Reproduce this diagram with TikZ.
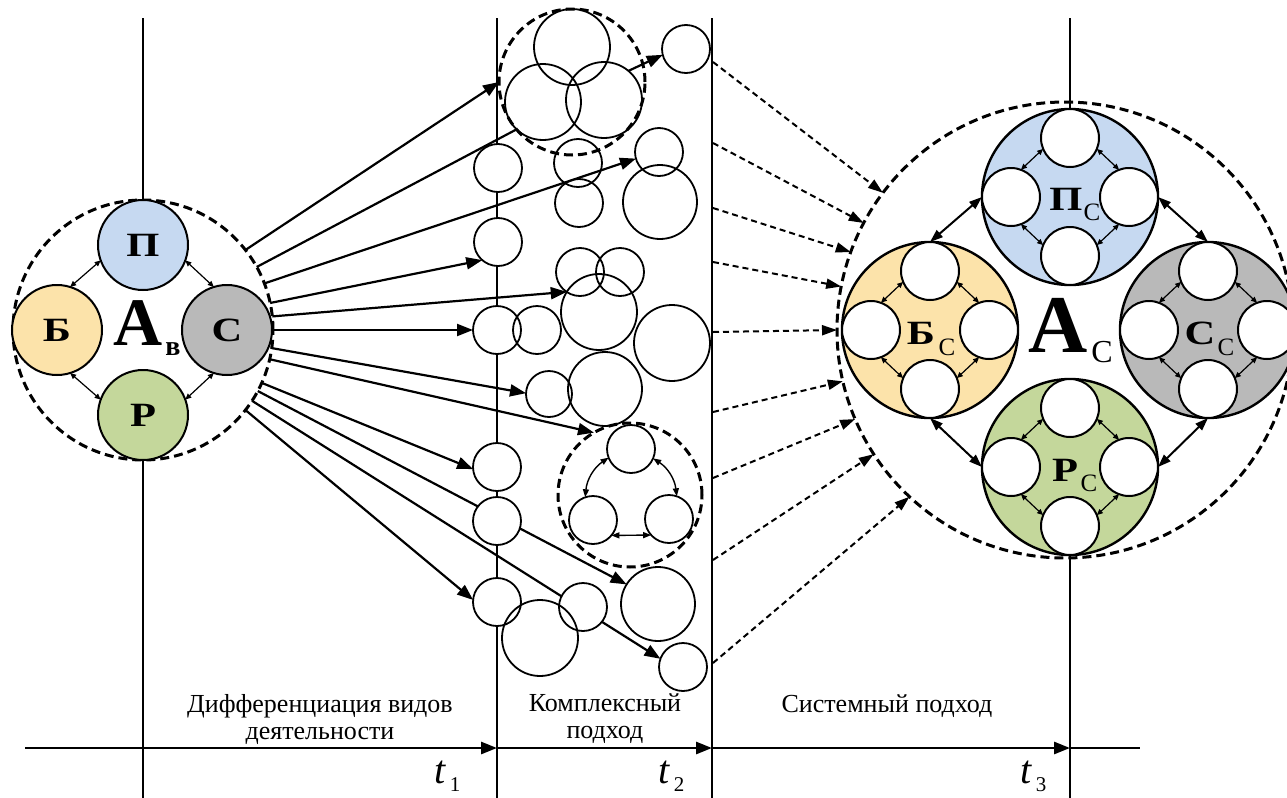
\documentclass[tikz,border=0pt]{standalone}
\usepackage{fontspec}
\usepackage{graphicx}
\setmainfont{Liberation Serif}
\usetikzlibrary{arrows.meta,backgrounds}
\definecolor{cblue}{RGB}{198,217,241}
\definecolor{cyel}{RGB}{252,227,170}
\definecolor{cgray}{RGB}{185,185,185}
\definecolor{cgreen}{RGB}{196,215,155}
\newcommand\hwide[1]{\scalebox{1.25}[1]{#1}}
\tikzset{
  cir/.style={circle,inner sep=0pt,outer sep=0pt,minimum size=#1pt},
  wc/.style={cir=#1,fill=white},
  ol/.style={line width=0.9pt},
  dcirc/.style={cir=#1,draw,line width=1.5pt,dash pattern=on 4.5pt off 2.5pt},
  bigarr/.style={line width=1.1pt,-{Triangle[length=8pt,width=6pt]}},
  plainline/.style={line width=1.1pt},
  darr/.style={line width=1pt,dash pattern=on 3pt off 2pt,-{Triangle[length=7.5pt,width=5pt]}},
  tinyarr/.style={line width=0.6pt,{Triangle[length=3pt,width=2.6pt]}-{Triangle[length=3pt,width=2.6pt]}},
  smallarr/.style={line width=0.7pt,{Triangle[length=4pt,width=3pt]}-{Triangle[length=4pt,width=3pt]}},
  midarr/.style={line width=1pt,{Triangle[length=6.5pt,width=4.5pt]}-{Triangle[length=6.5pt,width=4.5pt]}},
  axisarr/.style={line width=1.4pt,-{Triangle[length=8pt,width=6pt]}},
  vline/.style={line width=1pt},
  lab/.style={font=\fontsize{13}{13.5}\selectfont,align=center,inner sep=0pt},
  colc/.style={cir=45,draw,line width=1pt,fill=#1,font=\fontsize{17}{17}\selectfont\bfseries},
  subc/.style={cir=88,draw,line width=1.2pt,fill=#1},
  innc/.style={cir=29,draw,line width=1pt,fill=white},
  letr/.style={font=\fontsize{17}{17}\selectfont\bfseries,inner sep=0pt},
  subl/.style={font=\fontsize{12.5}{12.5}\selectfont,inner sep=0pt},
  tlab/.style={font=\fontsize{20}{20}\selectfont\itshape,inner sep=0pt},
  tsub/.style={font=\fontsize{10.5}{10.5}\selectfont,inner sep=0pt},
}
\begin{document}
\begin{tikzpicture}[x=0.5pt,y=-0.5pt]
\useasboundingbox (0,0) rectangle (1287,798);

% ---------- left cluster ----------
\node[dcirc=130] (Av) at (143,330) {};
\node[colc=cblue]  (P) at (143,245) {\hwide{П}};
\node[colc=cyel]   (B) at (57,330)  {\hwide{Б}};
\node[colc=cgray]  (C) at (227,330) {\hwide{С}};
\node[colc=cgreen] (R) at (143,415) {\hwide{Р}};
\node[font=\fontsize{34}{34}\selectfont\bfseries,inner sep=0pt] (Aleft) at (138,323) {А};
\node[font=\fontsize{14}{14}\selectfont\bfseries,inner sep=0pt] (Aleftsub) at (173,349) {в};
\draw[tinyarr] (P.200) -- (B.73);
\draw[tinyarr] (P.-20) -- (C.107);
\draw[tinyarr] (B.-73) -- (R.160);
\draw[tinyarr] (R.20) -- (C.253);

% ---------- middle column: white fills ----------
\foreach \n/\x/\y/\r in {a1/572/47/38,a2/543/102/38,a3/604/100/38,b1/686/49/24,
  c1/498/168/24,c2/578/163/24,c3/579/203/24,c4/659/152/24,c5/660/202/37,c6/498/242/24,
  d1/580/272/24,d2/620/272/24,d3/599/312/38,d4/497/330/24,d5/537/330/24,d6/672/343/38,
  d7/549/394/23,d8/605/389/37,e1/497/467/24,e2/631/449/24,e3/593/520/24,e4/669/519/24,
  f1/497/521/24,f2/497/602/24,f3/540/638/38,f4/583/607/24,f5/658/604/37,f6/683/667/24}
  {\node[wc=\r] (\n) at (\x,\y) {};}
\node[dcirc=73] (g1) at (572,82) {};
\node[dcirc=72] (g2) at (630,495) {};

% ---------- lines from left cluster ----------
\draw[bigarr] (Av.38) -- (g1.180);
\draw[plainline] (Av.29) -- (a2.226);
\draw[bigarr] (Av.21) -- (c4.196);
\draw[bigarr] (Av.12) -- (c6.229);
\draw[bigarr] (Av.6) -- (d3.148);
\draw[bigarr] (Av.0) -- (d4.180);
\draw[bigarr] (Av.-8) -- (d7.178);
\draw[bigarr] (Av.-13) -- (g2.120);
\draw[bigarr] (Av.-24) -- (e1.185);
\draw[bigarr] (Av.-38) -- (f2.175);
\draw[bigarr] (a3.50) -- (b1.194);

% ---------- middle outlines ----------
\foreach \n/\r in {a1/38,a2/38,a3/38,b1/24,c1/24,c2/24,c3/24,c4/24,c5/37,c6/24,
  d1/24,d2/24,d3/38,d4/24,d5/24,d6/38,d7/23,d8/37,e1/24,e2/24,e3/24,e4/24,
  f1/24,f2/24,f3/38,f4/24,f5/37,f6/24}
  {\draw[ol] (\n) circle[radius=\r];}
\draw[smallarr] (e2.201) to[bend right=25] (e3.109);
\draw[smallarr] (e2.-23) to[bend left=25] (e4.71);
\draw[smallarr] (e3.-40) -- (e4.222);

% ---------- right cluster ----------
\node[dcirc=228] (Ac) at (1065,330) {};
\node[subc=cblue]  (PS) at (1070,197) {};
\node[subc=cyel]   (BS) at (930,330) {};
\node[subc=cgray]  (CS) at (1208,330) {};
\node[subc=cgreen] (RS) at (1070,467) {};
\foreach \nm/\cx/\cy in {PS/1070/197,BS/930/330,CS/1208/330,RS/1070/467}{
  \node[innc] (\nm n) at (\cx,\cy-59) {};
  \node[innc] (\nm s) at (\cx,\cy+59) {};
  \node[innc] (\nm w) at (\cx-59,\cy) {};
  \node[innc] (\nm e) at (\cx+59,\cy) {};
  \draw[tinyarr] (\nm n.202) -- (\nm w.70);
  \draw[tinyarr] (\nm n.-22) -- (\nm e.110);
  \draw[tinyarr] (\nm s.158) -- (\nm w.-70);
  \draw[tinyarr] (\nm s.22) -- (\nm e.-110);
}
\draw[midarr] (PS.180) -- (BS.90);
\draw[midarr] (PS.0) -- (CS.90);
\draw[midarr] (BS.270) -- (RS.180);
\draw[midarr] (CS.270) -- (RS.0);
\node[letr] (PSl) at (1066,199) {\hwide{П}};
\node[subl] (PSsub) at (1092,212) {С};
\node[letr] (BSl) at (921,333) {\hwide{Б}};
\node[subl] (BSsub) at (947,347) {С};
\node[letr] (CSl) at (1200,333) {\hwide{С}};
\node[subl] (CSsub) at (1226,347) {С};
\node[letr] (RSl) at (1065,470) {\hwide{Р}};
\node[subl] (RSsub) at (1089,483) {С};
\node[font=\fontsize{41}{41}\selectfont\bfseries,inner sep=0pt] (Aright) at (1058,325) {А};
\node[font=\fontsize{16}{16}\selectfont,inner sep=0pt] (Arightsub) at (1102,352) {С};

% ---------- dashed arrows ----------
\foreach \i/\y/\a in {1/62/143,2/143/152,3/208/160,4/262/169,5/332/180,6/412/193,7/478/203,8/560/213,9/663/227}{
  \coordinate (s\i) at (713,\y);
  \draw[darr] (s\i) -- (Ac.\a);
}

% ---------- axis and labels ----------
\coordinate (ax0) at (25,748);
\coordinate (ax1) at (497,748);
\coordinate (ax2) at (712,748);
\coordinate (ax3) at (1070,748);
\coordinate (ax4) at (1140,748);
\node[lab] (l1) at (320,719) {Дифференциация видов\\деятельности};
\node[lab] (l2) at (605,719) {Комплексный\\подход};
\node[lab] (l3) at (887,706) {Системный подход};
\node[tlab] (t1) at (440,772) {t};
\node[tsub] (t1s) at (455,785) {1};
\node[tlab] (t2) at (664,772) {t};
\node[tsub] (t2s) at (679,785) {2};
\node[tlab] (t3) at (1026,772) {t};
\node[tsub] (t3s) at (1041,785) {3};

\begin{scope}[on background layer]
  \coordinate (v1t) at (143,18);
  \coordinate (v1b) at (143,798);
  \coordinate (v2t) at (497,18);
  \coordinate (v2b) at (497,798);
  \coordinate (v3t) at (712,18);
  \coordinate (v3b) at (712,798);
  \coordinate (v4t) at (1070,18);
  \coordinate (v4b) at (1070,798);
  \draw[vline] (v1t) -- (P.north);
  \draw[vline] (R.south) -- (v1b);
  \draw[vline] (v2t) -- (v2b);
  \draw[vline] (v3t) -- (v3b);
  \draw[vline] (v4t) -- (PS.north);
  \draw[vline] (RS.south) -- (v4b);
  \draw[axisarr] (ax0) -- (ax1);
  \draw[axisarr] (ax1) -- (ax2);
  \draw[axisarr] (ax2) -- (ax3);
  \draw[line width=1.4pt] (ax3) -- (ax4);
  \draw[bigarr] (Av.-28) -- (f5.148);
  \draw[bigarr] (Av.-33) -- (f6.160);
\end{scope}
\end{tikzpicture}
\end{document}
